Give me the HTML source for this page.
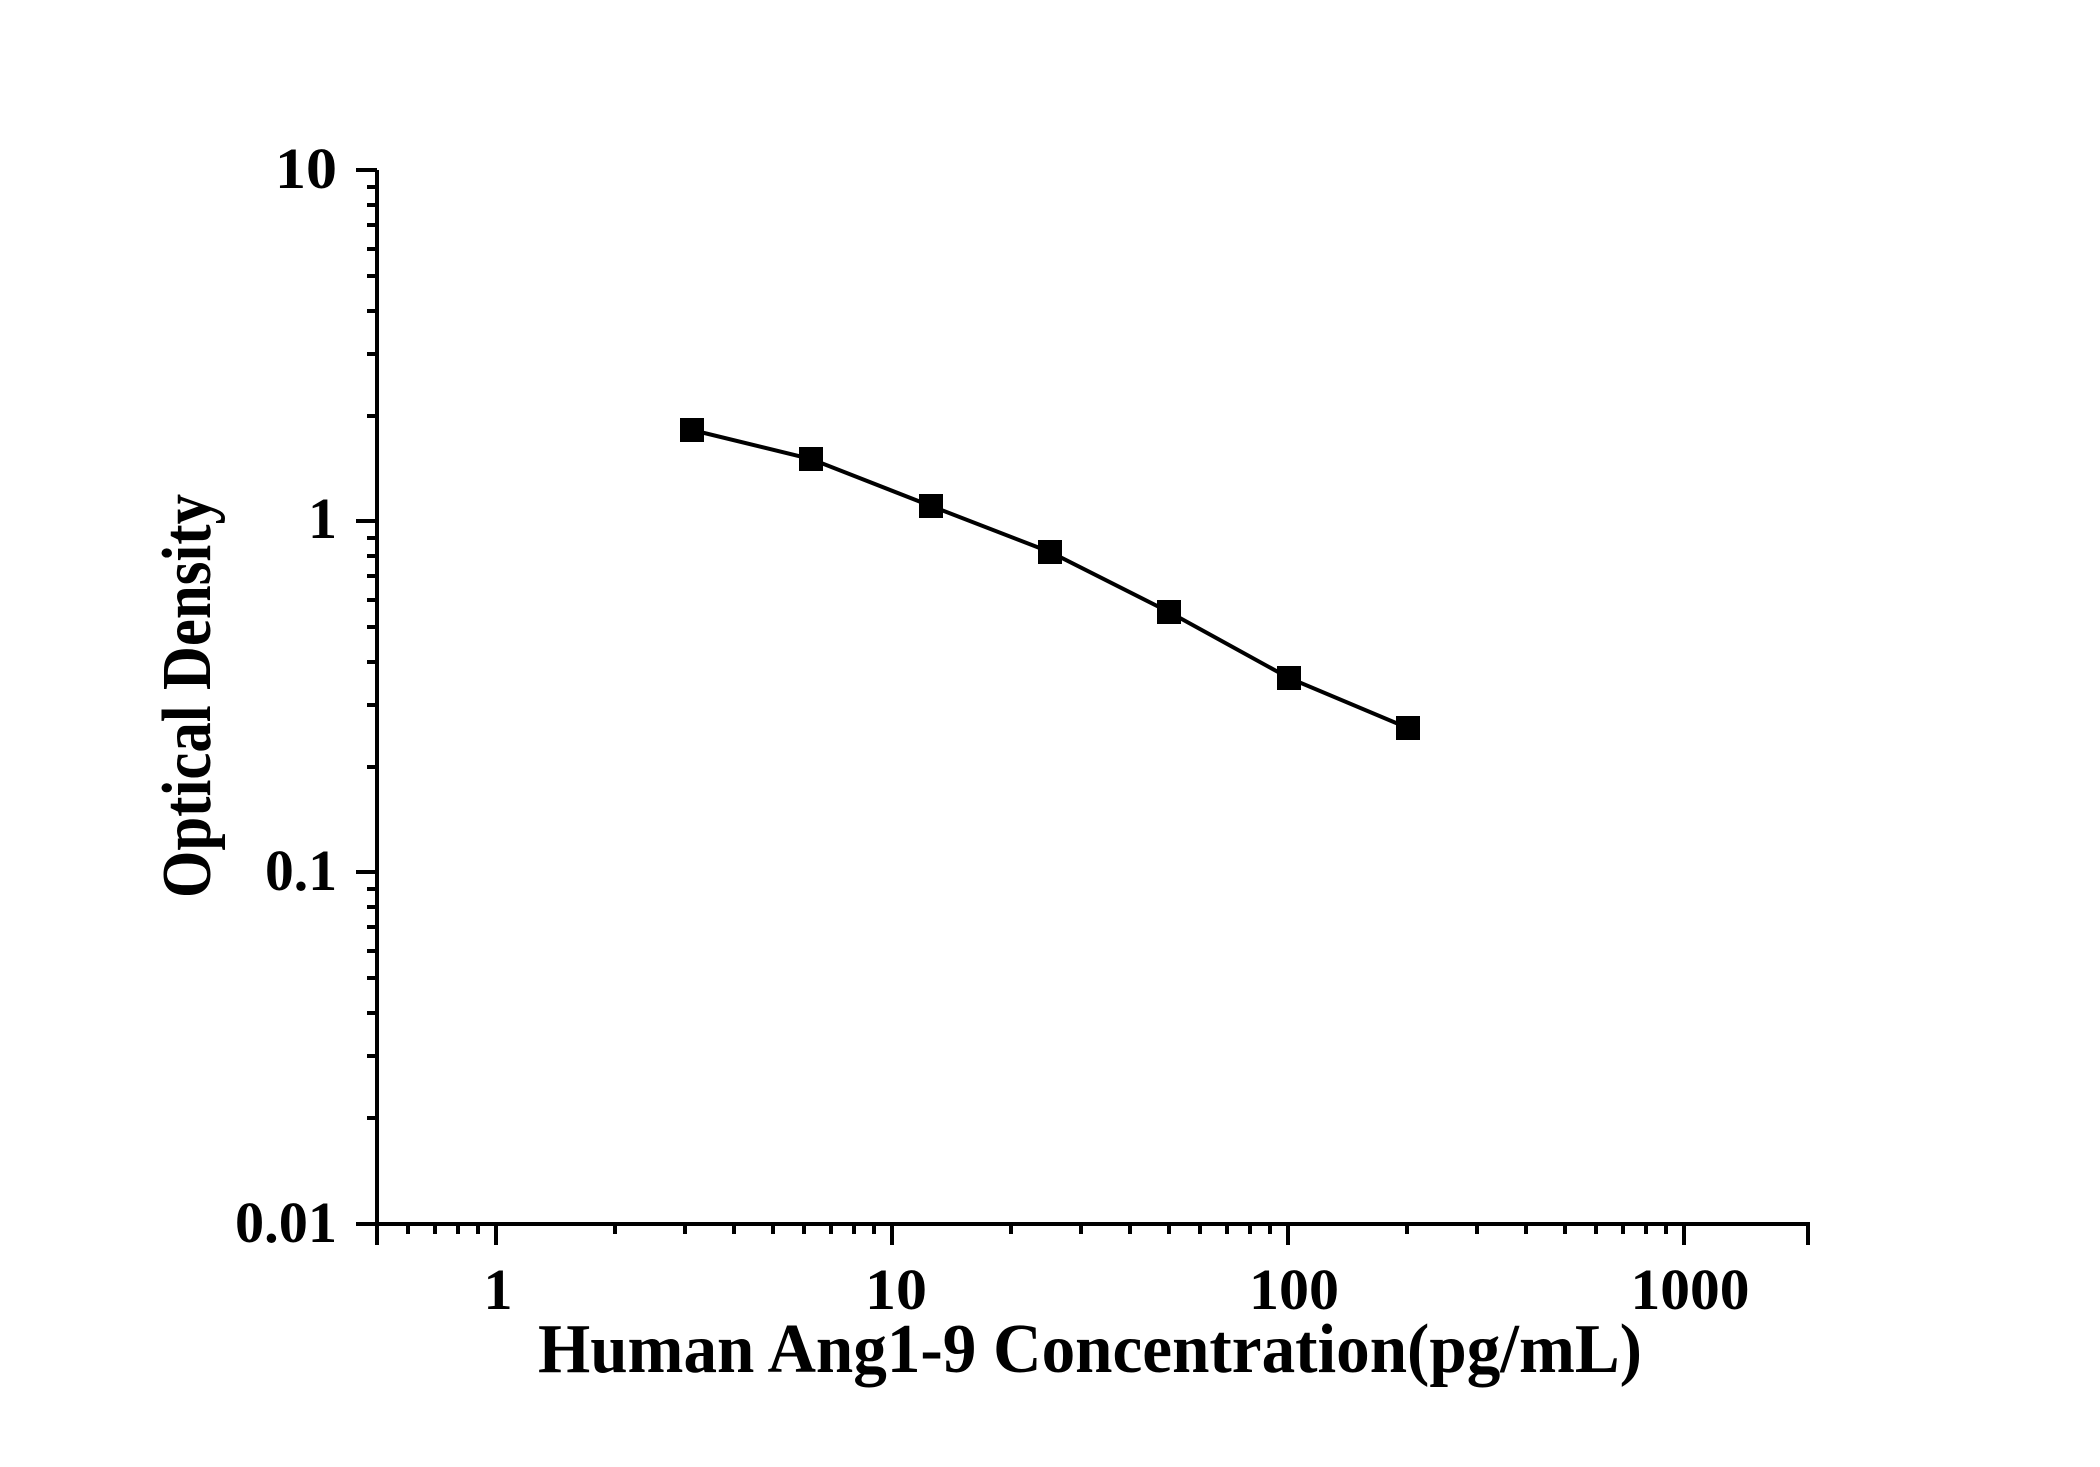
<!DOCTYPE html>
<html><head><meta charset="utf-8"><style>html,body{margin:0;padding:0;background:#fff}svg{display:block}</style></head>
<body>
<svg width="2100" height="1467" viewBox="0 0 2100 1467" xmlns="http://www.w3.org/2000/svg">
<g stroke="#000" stroke-width="4" fill="none">
<path d="M377 170 V1224 M356 1224 H1810"/>
<path d="M377 1224 v21 M408 1224 v10 M435 1224 v10 M458 1224 v10 M478 1224 v10 M496 1224 v21
M615 1224 v10 M685 1224 v10 M734 1224 v10 M773 1224 v10 M804 1224 v10 M831 1224 v10 M854 1224 v10 M874 1224 v10 M892 1224 v21
M1011 1224 v10 M1081 1224 v10 M1130 1224 v10 M1169 1224 v10 M1200 1224 v10 M1227 1224 v10 M1250 1224 v10 M1270 1224 v10 M1288 1224 v21
M1407 1224 v10 M1477 1224 v10 M1526 1224 v10 M1565 1224 v10 M1596 1224 v10 M1623 1224 v10 M1646 1224 v10 M1666 1224 v10 M1684 1224 v21 M1808 1224 v21"/>
<path d="M356 1224 h21 M367 1118 h10 M367 1056 h10 M367 1013 h10 M367 978 h10 M367 951 h10 M367 927 h10 M367 907 h10 M367 889 h10 M356 872 h21
M367 767 h10 M367 705 h10 M367 662 h10 M367 627 h10 M367 600 h10 M367 576 h10 M367 556 h10 M367 538 h10 M356 521 h21
M367 416 h10 M367 354 h10 M367 311 h10 M367 276 h10 M367 249 h10 M367 225 h10 M367 205 h10 M367 187 h10 M356 170 h21"/>
</g>
<polyline points="692,430 811,459 931,506 1050,552 1169,612 1289,678 1408,728" fill="none" stroke="#000" stroke-width="4"/>
<g fill="#000">
<rect x="680" y="418" width="24" height="24"/>
<rect x="799" y="447" width="24" height="24"/>
<rect x="919" y="494" width="24" height="24"/>
<rect x="1038" y="540" width="24" height="24"/>
<rect x="1157" y="600" width="24" height="24"/>
<rect x="1277" y="666" width="24" height="24"/>
<rect x="1396" y="716" width="24" height="24"/>
</g>
<g font-family="Liberation Serif, serif" font-weight="bold" font-size="58" fill="#000" text-anchor="end">
<text x="337" y="188" textLength="62" lengthAdjust="spacingAndGlyphs">10</text>
<text x="337" y="538">1</text>
<text x="337" y="890" textLength="72" lengthAdjust="spacingAndGlyphs">0.1</text>
<text x="337" y="1242" textLength="102" lengthAdjust="spacingAndGlyphs">0.01</text>
</g>
<g font-family="Liberation Serif, serif" font-weight="bold" font-size="58" fill="#000" text-anchor="middle">
<text x="498" y="1309">1</text>
<text x="896" y="1309" textLength="62" lengthAdjust="spacingAndGlyphs">10</text>
<text x="1294" y="1309" textLength="90" lengthAdjust="spacingAndGlyphs">100</text>
<text x="1690" y="1309" textLength="119" lengthAdjust="spacingAndGlyphs">1000</text>
</g>
<text x="1090" y="1372" text-anchor="middle" font-family="Liberation Serif, serif" font-weight="bold" font-size="70" textLength="1104" lengthAdjust="spacingAndGlyphs">Human Ang1-9 Concentration(pg/mL)</text>
<text transform="translate(210,696) rotate(-90)" text-anchor="middle" font-family="Liberation Serif, serif" font-weight="bold" font-size="70" textLength="404" lengthAdjust="spacingAndGlyphs">Optical Density</text>
</svg>
</body></html>
